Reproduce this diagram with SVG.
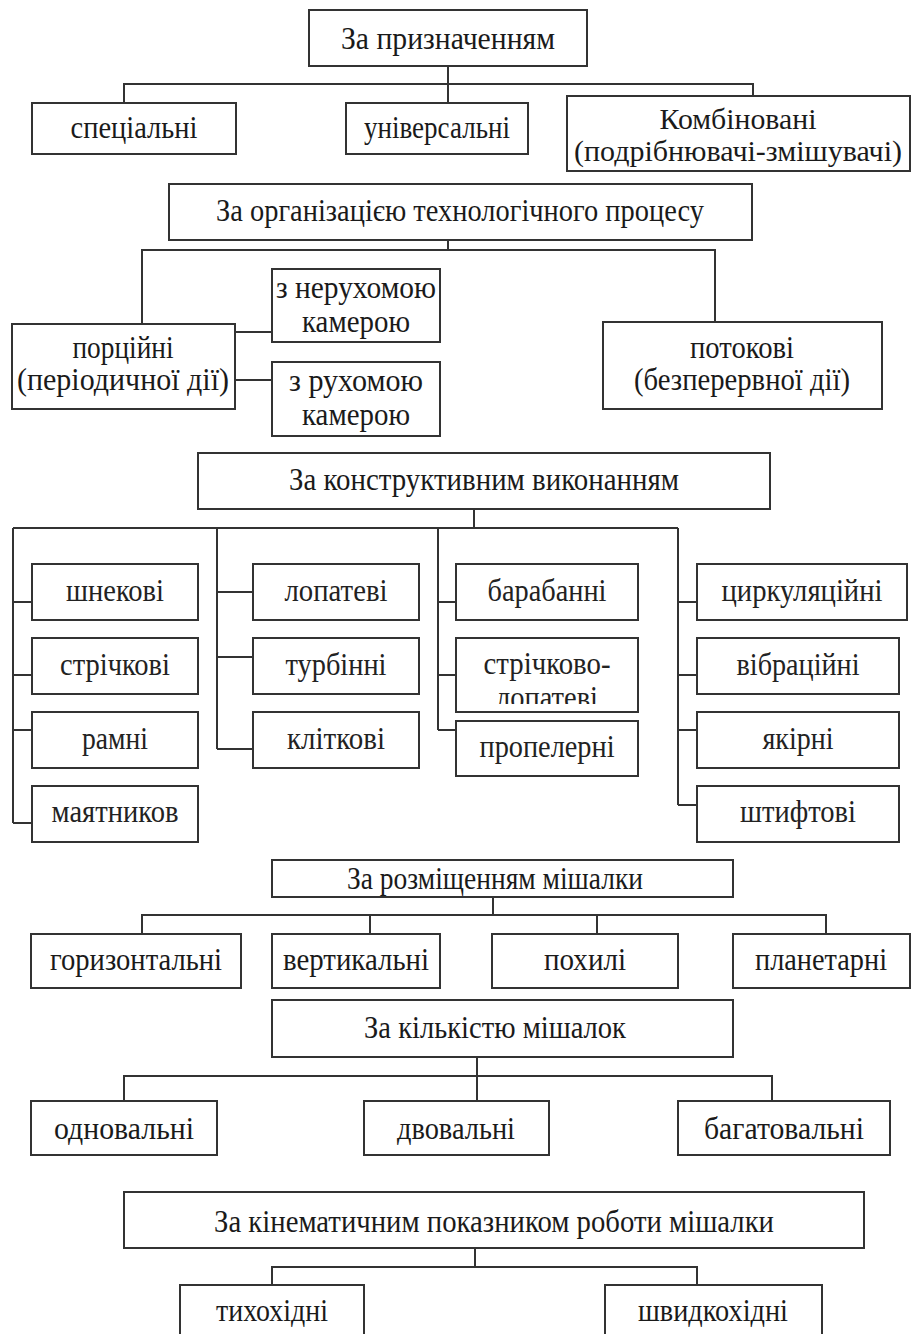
<svg xmlns="http://www.w3.org/2000/svg" width="914" height="1334" viewBox="0 0 914 1334">
<style>
.box{fill:#fff;stroke:#333;stroke-width:2}
.ln{fill:none;stroke:#333;stroke-width:2}
text{font-family:"Liberation Serif","Times New Roman",serif;font-size:31px;fill:#1a1a1a;text-anchor:middle}
text.k{font-size:32px;fill:#222}
text.s{font-size:29px}
</style>
<defs>
<clipPath id="clipLop"><rect x="456" y="638" width="182" height="66"/></clipPath>
</defs>
<rect width="914" height="1334" fill="#fff"/>
<g id="connectors">
<path class="ln" d="M448 67V84M124 103V84H753V103M448 84V103"/>
<path class="ln" d="M448 240V250M142 324V250H715V322M235 332H272M235 380H272"/>
<path class="ln" d="M474 509V528M13 528H678M13 528V823M13 602H32M13 675H32M13 730H32M13 823H32M217 528V749M217 592H253M217 657H253M217 749H253M438 528V730M438 602H456M438 675H456M438 730H456M678 528V805M678 602H697M678 675H697M678 730H697M678 805H697"/>
<path class="ln" d="M493 897V915M142 934V915H826V934M370 915V934M597 915V934"/>
<path class="ln" d="M477 1057V1076M124 1101V1076H772V1101M477 1076V1101"/>
<path class="ln" d="M475 1248V1267M272 1285V1267H697V1285"/>
</g>
<g id="n-pryznach"><rect class="box" x="309" y="10" width="278" height="56"/><text x="448" y="49" textLength="214" lengthAdjust="spacingAndGlyphs">За призначенням</text></g>
<g id="n-spec"><rect class="box" x="32" y="103" width="204" height="51"/><text x="134" y="138" textLength="127" lengthAdjust="spacingAndGlyphs">спеціальні</text></g>
<g id="n-univ"><rect class="box" x="346" y="103" width="182" height="51"/><text x="437" y="138" textLength="146" lengthAdjust="spacingAndGlyphs">універсальні</text></g>
<g id="n-komb"><rect class="box" x="567" y="96" width="343" height="75"/><text class="s" x="738" y="129" textLength="157" lengthAdjust="spacingAndGlyphs">Комбіновані</text><text class="s" x="738" y="161" textLength="328" lengthAdjust="spacingAndGlyphs">(подрібнювачі-змішувачі)</text></g>
<g id="n-org"><rect class="box" x="169" y="184" width="583" height="56"/><text x="460" y="221" textLength="488" lengthAdjust="spacingAndGlyphs">За організацією технологічного процесу</text></g>
<g id="n-porc"><rect class="box" x="12" y="324" width="223" height="85"/><text x="123" y="358" textLength="101" lengthAdjust="spacingAndGlyphs">порційні</text><text x="123" y="390" textLength="212" lengthAdjust="spacingAndGlyphs">(періодичної дії)</text></g>
<g id="n-nerukh"><rect class="box" x="272" y="269" width="168" height="73"/><text x="356" y="298" textLength="160" lengthAdjust="spacingAndGlyphs">з нерухомою</text><text x="356" y="332" textLength="108" lengthAdjust="spacingAndGlyphs">камерою</text></g>
<g id="n-rukh"><rect class="box" x="272" y="362" width="168" height="74"/><text x="356" y="391" textLength="134" lengthAdjust="spacingAndGlyphs">з рухомою</text><text x="356" y="425" textLength="108" lengthAdjust="spacingAndGlyphs">камерою</text></g>
<g id="n-potok"><rect class="box" x="603" y="322" width="279" height="87"/><text x="742" y="358" textLength="104" lengthAdjust="spacingAndGlyphs">потокові</text><text x="742" y="390" textLength="216" lengthAdjust="spacingAndGlyphs">(безперервної дії)</text></g>
<g id="n-konstr"><rect class="box" x="198" y="453" width="572" height="56"/><text x="484" y="490" textLength="390" lengthAdjust="spacingAndGlyphs">За конструктивним виконанням</text></g>
<g id="n-shnek"><rect class="box" x="32" y="564" width="166" height="56"/><text class="k" x="115" y="601" textLength="98" lengthAdjust="spacingAndGlyphs">шнекові</text></g>
<g id="n-strich"><rect class="box" x="32" y="638" width="166" height="56"/><text class="k" x="115" y="675" textLength="110" lengthAdjust="spacingAndGlyphs">стрічкові</text></g>
<g id="n-ramni"><rect class="box" x="32" y="712" width="166" height="56"/><text class="k" x="115" y="749" textLength="66" lengthAdjust="spacingAndGlyphs">рамні</text></g>
<g id="n-mayat"><rect class="box" x="32" y="786" width="166" height="56"/><text class="k" x="115" y="822" textLength="127" lengthAdjust="spacingAndGlyphs">маятников</text></g>
<g id="n-lopat"><rect class="box" x="253" y="564" width="166" height="56"/><text class="k" x="336" y="601" textLength="103" lengthAdjust="spacingAndGlyphs">лопатеві</text></g>
<g id="n-turb"><rect class="box" x="253" y="638" width="166" height="56"/><text class="k" x="336" y="675" textLength="101" lengthAdjust="spacingAndGlyphs">турбінні</text></g>
<g id="n-klit"><rect class="box" x="253" y="712" width="166" height="56"/><text class="k" x="336" y="749" textLength="98" lengthAdjust="spacingAndGlyphs">кліткові</text></g>
<g id="n-barab"><rect class="box" x="456" y="564" width="182" height="56"/><text class="k" x="547" y="601" textLength="119" lengthAdjust="spacingAndGlyphs">барабанні</text></g>
<g id="n-strlop"><rect class="box" x="456" y="638" width="182" height="74"/><text class="k" x="547" y="674" textLength="127" lengthAdjust="spacingAndGlyphs">стрічково-</text><text class="k" x="547" y="708" textLength="102" lengthAdjust="spacingAndGlyphs" clip-path="url(#clipLop)">лопатеві</text></g>
<g id="n-propel"><rect class="box" x="456" y="721" width="182" height="55"/><text class="k" x="547" y="757" textLength="135" lengthAdjust="spacingAndGlyphs">пропелерні</text></g>
<g id="n-tsyrk"><rect class="box" x="697" y="564" width="210" height="56"/><text class="k" x="802" y="601" textLength="161" lengthAdjust="spacingAndGlyphs">циркуляційні</text></g>
<g id="n-vibr"><rect class="box" x="697" y="638" width="202" height="56"/><text class="k" x="798" y="675" textLength="123" lengthAdjust="spacingAndGlyphs">вібраційні</text></g>
<g id="n-yakir"><rect class="box" x="697" y="712" width="202" height="56"/><text class="k" x="798" y="749" textLength="71" lengthAdjust="spacingAndGlyphs">якірні</text></g>
<g id="n-shtyft"><rect class="box" x="697" y="786" width="202" height="56"/><text class="k" x="798" y="822" textLength="116" lengthAdjust="spacingAndGlyphs">штифтові</text></g>
<g id="n-rozm"><rect class="box" x="272" y="860" width="461" height="37"/><text x="495" y="889" textLength="296" lengthAdjust="spacingAndGlyphs">За розміщенням мішалки</text></g>
<g id="n-horyz"><rect class="box" x="31" y="934" width="210" height="54"/><text x="136" y="970" textLength="172" lengthAdjust="spacingAndGlyphs">горизонтальні</text></g>
<g id="n-vert"><rect class="box" x="272" y="934" width="168" height="54"/><text x="356" y="970" textLength="146" lengthAdjust="spacingAndGlyphs">вертикальні</text></g>
<g id="n-pokh"><rect class="box" x="492" y="934" width="186" height="54"/><text x="585" y="970" textLength="82" lengthAdjust="spacingAndGlyphs">похилі</text></g>
<g id="n-plan"><rect class="box" x="733" y="934" width="177" height="54"/><text x="821" y="970" textLength="132" lengthAdjust="spacingAndGlyphs">планетарні</text></g>
<g id="n-kilk"><rect class="box" x="272" y="1000" width="461" height="57"/><text x="495" y="1038" textLength="262" lengthAdjust="spacingAndGlyphs">За кількістю мішалок</text></g>
<g id="n-odno"><rect class="box" x="31" y="1101" width="186" height="54"/><text x="124" y="1139" textLength="140" lengthAdjust="spacingAndGlyphs">одновальні</text></g>
<g id="n-dvo"><rect class="box" x="364" y="1101" width="185" height="54"/><text x="456" y="1139" textLength="118" lengthAdjust="spacingAndGlyphs">двовальні</text></g>
<g id="n-bahato"><rect class="box" x="678" y="1101" width="212" height="54"/><text x="784" y="1139" textLength="160" lengthAdjust="spacingAndGlyphs">багатовальні</text></g>
<g id="n-kinem"><rect class="box" x="124" y="1192" width="740" height="56"/><text x="494" y="1232" textLength="560" lengthAdjust="spacingAndGlyphs">За кінематичним показником роботи мішалки</text></g>
<g id="n-tykh"><rect class="box" x="180" y="1285" width="184" height="60"/><text x="272" y="1321" textLength="112" lengthAdjust="spacingAndGlyphs">тихохідні</text></g>
<g id="n-shvyd"><rect class="box" x="605" y="1285" width="217" height="60"/><text x="713" y="1321" textLength="150" lengthAdjust="spacingAndGlyphs">швидкохідні</text></g>
</svg>
